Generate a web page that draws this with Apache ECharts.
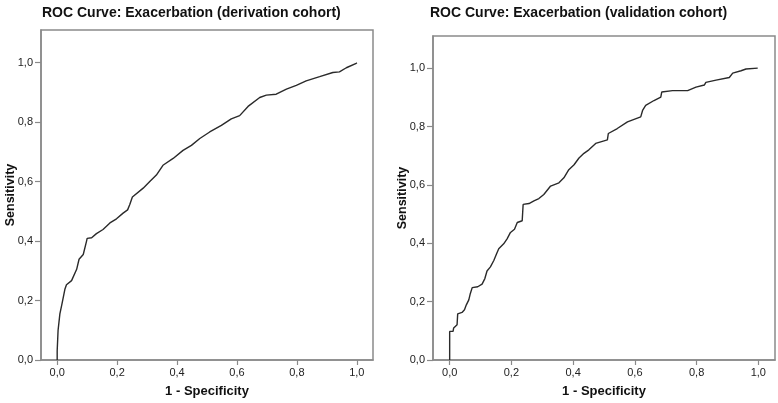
<!DOCTYPE html>
<html>
<head>
<meta charset="utf-8">
<script src="https://cdn.jsdelivr.net/npm/echarts@6/dist/echarts.min.js"></script>
<style>html,body{margin:0;padding:0;background:#fff}#c{width:778px;height:403px}</style>
</head>
<body>
<div id="c"></div>
<script>
var titles = ["ROC Curve: Exacerbation (derivation cohort)", "ROC Curve: Exacerbation (validation cohort)"];
var xAxisName = "1 - Specificity";
var yAxisName = "Sensitivity";
var tickValues = [0, 0.2, 0.4, 0.6, 0.8, 1.0];

var derivationFPR = [0, 0, 0.003, 0.009, 0.016, 0.026, 0.031, 0.048, 0.065, 0.073, 0.087, 0.098, 0.10, 0.115, 0.131, 0.153, 0.176, 0.198, 0.22, 0.235, 0.242, 0.251, 0.287, 0.309, 0.331, 0.353, 0.387, 0.42, 0.448, 0.476, 0.509, 0.548, 0.581, 0.609, 0.637, 0.676, 0.698, 0.731, 0.765, 0.798, 0.831, 0.876, 0.92, 0.942, 0.965, 0.998, 1.0];
var derivationTPR = [0, 0.03, 0.10, 0.155, 0.189, 0.239, 0.253, 0.267, 0.305, 0.339, 0.355, 0.40, 0.409, 0.411, 0.425, 0.439, 0.461, 0.475, 0.494, 0.505, 0.522, 0.548, 0.578, 0.60, 0.622, 0.655, 0.678, 0.705, 0.722, 0.745, 0.767, 0.789, 0.811, 0.822, 0.853, 0.883, 0.891, 0.894, 0.911, 0.924, 0.939, 0.953, 0.967, 0.969, 0.983, 0.998, 1.0];

var validationFPR = [0, 0, 0.011, 0.013, 0.024, 0.026, 0.026, 0.04, 0.048, 0.054, 0.062, 0.067, 0.073, 0.091, 0.105, 0.114, 0.121, 0.132, 0.143, 0.152, 0.159, 0.175, 0.186, 0.197, 0.21, 0.219, 0.235, 0.238, 0.257, 0.273, 0.289, 0.305, 0.327, 0.354, 0.37, 0.386, 0.403, 0.419, 0.435, 0.451, 0.473, 0.511, 0.514, 0.543, 0.576, 0.619, 0.625, 0.635, 0.662, 0.684, 0.687, 0.722, 0.771, 0.798, 0.825, 0.83, 0.863, 0.906, 0.917, 0.944, 0.96, 0.998, 1.0];
var validationTPR = [0, 0.098, 0.098, 0.11, 0.121, 0.121, 0.158, 0.163, 0.172, 0.189, 0.206, 0.228, 0.248, 0.251, 0.26, 0.279, 0.305, 0.319, 0.341, 0.364, 0.381, 0.398, 0.415, 0.437, 0.448, 0.471, 0.477, 0.533, 0.536, 0.545, 0.553, 0.567, 0.596, 0.607, 0.624, 0.652, 0.669, 0.692, 0.708, 0.72, 0.742, 0.754, 0.776, 0.793, 0.816, 0.833, 0.855, 0.872, 0.889, 0.901, 0.918, 0.923, 0.923, 0.935, 0.942, 0.951, 0.959, 0.968, 0.983, 0.991, 0.997, 1.0, 1.0];

function pairs(xs, ys) { return xs.map(function (x, i) { return [x, ys[i]]; }); }
function fmt(v) { return (Math.round(v * 10) / 10).toFixed(1).replace('.', ','); }

var grids = [
  { left: 41, top: 30, width: 332, height: 333 },
  { left: 433, top: 36, width: 342, height: 328 }
];
var axisColor = '#8a8a8a';
var font = 'Arial, "Liberation Sans", sans-serif';

function xAxis(i) {
  return {
    type: 'value', gridIndex: i, min: -0.054, max: 1.054,
    name: xAxisName, nameLocation: 'middle', nameGap: 25, nameMoveOverlap: false,
    nameTextStyle: { fontFamily: font, fontWeight: 'bold', fontSize: 13, color: '#111' },
    axisLine: { onZero: false, lineStyle: { color: axisColor, width: 1.5 } },
    axisTick: { show: true, length: 5, customValues: tickValues, lineStyle: { color: axisColor, width: 1.2 } },
    axisLabel: { customValues: tickValues, formatter: fmt, margin: 7, fontFamily: font, fontSize: 11, color: '#222' },
    splitLine: { show: false }
  };
}
function yAxis(i) {
  return {
    type: 'value', gridIndex: i, min: 0, max: 1.11,
    name: yAxisName, nameLocation: 'middle', nameGap: 24, nameMoveOverlap: false,
    nameTextStyle: { fontFamily: font, fontWeight: 'bold', fontSize: 12.5, color: '#111' },
    axisLine: { onZero: false, lineStyle: { color: axisColor, width: 1.5 } },
    axisTick: { show: true, length: 6, customValues: tickValues, lineStyle: { color: axisColor, width: 1.2 } },
    axisLabel: { customValues: tickValues, formatter: fmt, margin: 8, fontFamily: font, fontSize: 11, color: '#222' },
    splitLine: { show: false }
  };
}

var chart = echarts.init(document.getElementById('c'));
chart.setOption({
  animation: false,
  backgroundColor: '#fff',
  title: [
    { text: titles[0], left: 42, top: 6, padding: 0, textStyle: { fontFamily: font, fontWeight: 'bold', fontSize: 14, color: '#111' } },
    { text: titles[1], left: 430, top: 6, padding: 0, textStyle: { fontFamily: font, fontWeight: 'bold', fontSize: 14, color: '#111' } }
  ],
  grid: grids.map(function (g) { return Object.assign({ show: true, borderColor: axisColor, borderWidth: 1.5, backgroundColor: '#fff' }, g); }),
  xAxis: [xAxis(0), xAxis(1)],
  yAxis: [yAxis(0), yAxis(1)],
  series: [
    { type: 'line', xAxisIndex: 0, yAxisIndex: 0, data: pairs(derivationFPR, derivationTPR), showSymbol: false, lineStyle: { color: '#2a2a2a', width: 1.4 } },
    { type: 'line', xAxisIndex: 1, yAxisIndex: 1, data: pairs(validationFPR, validationTPR), showSymbol: false, lineStyle: { color: '#2a2a2a', width: 1.4 } }
  ]
});
</script>
</body>
</html>
